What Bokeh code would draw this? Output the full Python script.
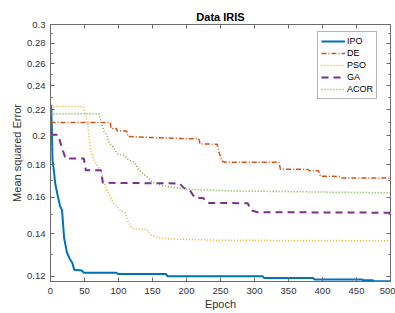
from bokeh.plotting import figure
from bokeh.models import (FixedTicker, LinearAxis, LogAxis, Range1d, Legend, LegendItem,
                          CustomJSTickFormatter)
from bokeh.embed import file_html
from bokeh.resources import INLINE

# ---------------- data ----------------
ipo_x = [1, 2, 3, 5, 7, 10, 14, 17, 20, 24, 28, 32, 35, 46, 49, 97, 99, 170, 172, 312, 314, 386, 388, 458, 460, 474, 476, 500]
ipo_y = [0.224, 0.205, 0.183, 0.176, 0.168, 0.162, 0.155, 0.1525, 0.138, 0.131, 0.128, 0.126, 0.1228, 0.1225, 0.1215,
         0.1215, 0.121, 0.121, 0.12, 0.12, 0.1192, 0.1192, 0.1186, 0.1186, 0.1182, 0.1182, 0.1178, 0.1178]

de_x = [0, 88, 89, 97, 98, 112, 114, 150, 200, 218, 220, 245, 248, 252, 257, 336, 338, 378, 381, 394, 397, 426, 429, 500]
de_y = [0.210, 0.210, 0.2055, 0.2055, 0.2035, 0.2035, 0.1995, 0.1988, 0.198, 0.198, 0.1942, 0.194, 0.188, 0.1825,
        0.1817, 0.1817, 0.1772, 0.177, 0.1762, 0.1762, 0.1727, 0.1725, 0.1715, 0.1715]

pso_x = [0, 48, 51, 54, 56, 59, 66, 74, 78, 83, 93, 103, 110, 115, 120, 127, 142, 147, 157, 172, 200, 245, 500]
pso_y = [0.2225, 0.2225, 0.217, 0.21, 0.202, 0.19, 0.181, 0.1765, 0.170, 0.164, 0.1562, 0.1525, 0.151, 0.1456,
         0.143, 0.1425, 0.1422, 0.1394, 0.1382, 0.1375, 0.1372, 0.1368, 0.1365]

ga_x = [0, 11, 14, 18, 22, 49, 52, 74, 77, 190, 196, 205, 212, 225, 231, 290, 295, 305, 500]
ga_y = [0.2008, 0.2008, 0.196, 0.19, 0.1842, 0.1842, 0.1765, 0.1765, 0.1686, 0.1682, 0.1655, 0.164, 0.1598,
        0.1593, 0.1567, 0.1565, 0.1525, 0.1515, 0.1512]

acor_x = [0, 71, 74, 78, 83, 86, 91, 98, 108, 115, 123, 130, 140, 150, 160, 176, 206, 270, 323, 400, 500]
acor_y = [0.2167, 0.2167, 0.2116, 0.204, 0.200, 0.195, 0.193, 0.1875, 0.1863, 0.183, 0.1818, 0.1765, 0.173,
          0.169, 0.1675, 0.166, 0.1646, 0.1636, 0.1634, 0.163, 0.1625]

x_ticks = [0, 50, 100, 150, 200, 250, 300, 350, 400, 450, 500]
y_ticks = [0.12, 0.14, 0.16, 0.18, 0.2, 0.22, 0.24, 0.26, 0.28, 0.3]
y_minor = [0.13, 0.15, 0.17, 0.19, 0.21, 0.23, 0.25, 0.27, 0.29]

title_text = "Data IRIS"
x_label = "Epoch"
y_label = "Mean squared Error"
names = ["IPO", "DE", "PSO", "GA", "ACOR"]
colors = ["#0072BD", "#D95319", "#EDB120", "#7E2F8E", "#77AC30"]

# ---------------- figure ----------------
FONT = "Liberation Sans"
AX = "#6b6b6b"
TXT = "#333333"

p = figure(width=395, height=313, output_backend="svg", toolbar_location=None,
           y_axis_type="log", x_range=Range1d(0, 500), y_range=Range1d(0.1177, 0.3),
           min_border_left=50, min_border_right=5, min_border_top=24, min_border_bottom=32,
           title=title_text)
p.title.text_font = FONT
p.title.text_font_size = "11px"
p.title.text_font_style = "bold"
p.title.align = "center"
p.title.text_color = "#000000"
p.title.standoff = 3
p.title.offset = 0

p.grid.visible = False
p.outline_line_color = AX
p.outline_line_width = 1
p.background_fill_color = "white"
p.border_fill_color = "white"

yfmt = CustomJSTickFormatter(code="return tick.toFixed(2).replace(/0$/, '');")
blank = CustomJSTickFormatter(code="return '';")

def style_axis(ax, labels=True):
    ax.axis_line_color = AX
    ax.major_tick_line_color = AX
    ax.minor_tick_line_color = AX
    ax.major_tick_in = 4
    ax.major_tick_out = 0
    ax.minor_tick_in = 2
    ax.minor_tick_out = 0
    ax.major_label_text_font = FONT
    ax.major_label_text_color = TXT
    ax.axis_label_text_font = FONT
    ax.axis_label_text_color = TXT
    ax.axis_label_text_font_style = "normal"
    ax.major_label_text_font_size = "9.5px"
    ax.axis_label_text_font_size = "11px"
    if not labels:
        ax.formatter = blank
        ax.major_label_standoff = 0

xax = p.xaxis[0]
xax.ticker = FixedTicker(ticks=x_ticks)
style_axis(xax)
xax.major_label_standoff = 6
xax.axis_label = x_label
xax.axis_label_standoff = 1

yax = p.yaxis[0]
yax.ticker = FixedTicker(ticks=y_ticks, minor_ticks=y_minor)
yax.formatter = yfmt
style_axis(yax)
yax.major_label_standoff = 5
yax.axis_label = y_label
yax.axis_label_standoff = 1

top = LinearAxis(ticker=FixedTicker(ticks=x_ticks))
style_axis(top, labels=False)
p.add_layout(top, "above")

right = LogAxis(ticker=FixedTicker(ticks=y_ticks, minor_ticks=y_minor))
style_axis(right, labels=False)
p.add_layout(right, "right")

# ---------------- lines ----------------
r_ipo = p.line(ipo_x, ipo_y, line_color=colors[0], line_width=2)
r_de = p.line(de_x, de_y, line_color=colors[1], line_width=1.5, line_dash="5 2 1 2")
r_pso = p.line(pso_x, pso_y, line_color=colors[2], line_width=1.5, line_dash="1 2")
r_ga = p.line(ga_x, ga_y, line_color=colors[3], line_width=2, line_dash="7 5")
r_acor = p.line(acor_x, acor_y, line_color=colors[4], line_width=1.5, line_dash="1 2")

legend = Legend(items=[LegendItem(label=n, renderers=[r]) for n, r in
                       zip(names, [r_ipo, r_de, r_pso, r_ga, r_acor])],
                location=(267, 182))
legend.label_text_font = FONT
legend.label_text_font_size = "9px"
legend.label_text_color = "#000000"
legend.glyph_width = 24
legend.glyph_height = 12
legend.label_height = 12
legend.label_standoff = 2
legend.spacing = 0
legend.padding = 3
legend.margin = 0
legend.border_line_color = AX
legend.border_line_width = 1
legend.background_fill_color = "white"
legend.background_fill_alpha = 1
p.add_layout(legend, "center")

open("out.html", "w").write(file_html(p, INLINE))
